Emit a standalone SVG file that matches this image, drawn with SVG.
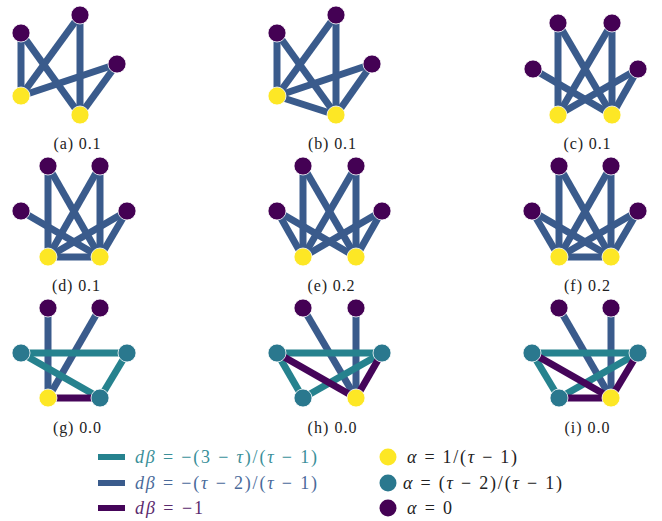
<svg xmlns="http://www.w3.org/2000/svg" width="662" height="521" viewBox="0 0 662 521">
<style>
.e{stroke-width:7;stroke-linecap:butt;fill:none}
.b{stroke:#3a5b8c}
.t{stroke:#26828e}
.p{stroke:#450559}
.n{stroke:#ffffff;stroke-width:0.8}
.ny{fill:#fde725}
.nt{fill:#2a788e}
.np{fill:#440154}
.lbl{font-family:"Liberation Serif","DejaVu Serif",serif;font-size:16px;fill:#222;text-anchor:middle}
.lg{font-family:"Liberation Serif","DejaVu Serif",serif;font-size:18px}
.i{font-style:italic}
</style>
<rect width="662" height="521" fill="#ffffff"/>
<g id="connectors">
<!-- a -->
<line class="e b" x1="21" y1="33" x2="21" y2="96"/>
<line class="e b" x1="21" y1="33" x2="80" y2="115"/>
<line class="e b" x1="80" y1="15" x2="21" y2="96"/>
<line class="e b" x1="80" y1="15" x2="80" y2="115"/>
<line class="e b" x1="117" y1="64" x2="21" y2="96"/>
<line class="e b" x1="117" y1="64" x2="80" y2="115"/>
<!-- b -->
<line class="e b" x1="277" y1="33" x2="277" y2="96"/>
<line class="e b" x1="277" y1="33" x2="336" y2="115"/>
<line class="e b" x1="336" y1="15" x2="277" y2="96"/>
<line class="e b" x1="336" y1="15" x2="336" y2="115"/>
<line class="e b" x1="372" y1="64" x2="277" y2="96"/>
<line class="e b" x1="372" y1="64" x2="336" y2="115"/>
<line class="e b" x1="277" y1="96" x2="336" y2="115"/>
<!-- c -->
<line class="e b" x1="558" y1="23" x2="558" y2="115"/>
<line class="e b" x1="558" y1="23" x2="612" y2="115"/>
<line class="e b" x1="612" y1="23" x2="558" y2="115"/>
<line class="e b" x1="612" y1="23" x2="612" y2="115"/>
<line class="e b" x1="533" y1="69" x2="612" y2="115"/>
<line class="e b" x1="638" y1="69" x2="558" y2="115"/>
<line class="e b" x1="638" y1="69" x2="612" y2="115"/>
<!-- d -->
<line class="e b" x1="48" y1="166" x2="48" y2="257"/>
<line class="e b" x1="48" y1="166" x2="100" y2="257"/>
<line class="e b" x1="100" y1="166" x2="48" y2="257"/>
<line class="e b" x1="100" y1="166" x2="100" y2="257"/>
<line class="e b" x1="21" y1="211" x2="100" y2="257"/>
<line class="e b" x1="127" y1="211" x2="48" y2="257"/>
<line class="e b" x1="127" y1="211" x2="100" y2="257"/>
<line class="e b" x1="48" y1="257" x2="100" y2="257"/>
<!-- e -->
<line class="e b" x1="303" y1="166" x2="303" y2="257"/>
<line class="e b" x1="303" y1="166" x2="356" y2="257"/>
<line class="e b" x1="356" y1="166" x2="303" y2="257"/>
<line class="e b" x1="356" y1="166" x2="356" y2="257"/>
<line class="e b" x1="277" y1="211" x2="303" y2="257"/>
<line class="e b" x1="277" y1="211" x2="356" y2="257"/>
<line class="e b" x1="382" y1="211" x2="303" y2="257"/>
<line class="e b" x1="382" y1="211" x2="356" y2="257"/>
<!-- f -->
<line class="e b" x1="559" y1="166" x2="559" y2="257"/>
<line class="e b" x1="559" y1="166" x2="611" y2="257"/>
<line class="e b" x1="611" y1="166" x2="559" y2="257"/>
<line class="e b" x1="611" y1="166" x2="611" y2="257"/>
<line class="e b" x1="532" y1="211" x2="559" y2="257"/>
<line class="e b" x1="532" y1="211" x2="611" y2="257"/>
<line class="e b" x1="638" y1="211" x2="559" y2="257"/>
<line class="e b" x1="638" y1="211" x2="611" y2="257"/>
<line class="e b" x1="559" y1="257" x2="611" y2="257"/>
<!-- g -->
<line class="e b" x1="48" y1="308" x2="48" y2="398"/>
<line class="e b" x1="100" y1="308" x2="48" y2="398"/>
<line class="e t" x1="21" y1="353" x2="127" y2="353"/>
<line class="e t" x1="21" y1="353" x2="100" y2="398"/>
<line class="e t" x1="127" y1="353" x2="100" y2="398"/>
<line class="e p" x1="48" y1="398" x2="100" y2="398"/>
<!-- h -->
<line class="e b" x1="303" y1="308" x2="356" y2="398"/>
<line class="e b" x1="356" y1="308" x2="356" y2="398"/>
<line class="e t" x1="277" y1="353" x2="382" y2="353"/>
<line class="e t" x1="277" y1="353" x2="303" y2="398"/>
<line class="e t" x1="382" y1="353" x2="303" y2="398"/>
<line class="e p" x1="277" y1="353" x2="356" y2="398"/>
<line class="e p" x1="382" y1="353" x2="356" y2="398"/>
<!-- i -->
<line class="e b" x1="559" y1="308" x2="611" y2="398"/>
<line class="e b" x1="611" y1="308" x2="611" y2="398"/>
<line class="e t" x1="532" y1="353" x2="638" y2="353"/>
<line class="e t" x1="532" y1="353" x2="559" y2="398"/>
<line class="e t" x1="638" y1="353" x2="559" y2="398"/>
<line class="e p" x1="532" y1="353" x2="611" y2="398"/>
<line class="e p" x1="638" y1="353" x2="611" y2="398"/>
<line class="e p" x1="559" y1="398" x2="611" y2="398"/>
</g>
<!-- panel a nodes -->
<g id="a1"><circle class="n np" cx="21" cy="33" r="9"/></g>
<g id="a2"><circle class="n np" cx="80" cy="15" r="9"/></g>
<g id="a3"><circle class="n np" cx="117" cy="64" r="9"/></g>
<g id="a4"><circle class="n ny" cx="21" cy="96" r="9"/></g>
<g id="a5"><circle class="n ny" cx="80" cy="115" r="9"/></g>
<!-- b -->
<g id="b1"><circle class="n np" cx="277" cy="33" r="9"/></g>
<g id="b2"><circle class="n np" cx="336" cy="15" r="9"/></g>
<g id="b3"><circle class="n np" cx="372" cy="64" r="9"/></g>
<g id="b4"><circle class="n ny" cx="277" cy="96" r="9"/></g>
<g id="b5"><circle class="n ny" cx="336" cy="115" r="9"/></g>
<!-- c -->
<g id="c1"><circle class="n np" cx="558" cy="23" r="9"/></g>
<g id="c2"><circle class="n np" cx="612" cy="23" r="9"/></g>
<g id="c3"><circle class="n np" cx="533" cy="69" r="9"/></g>
<g id="c4"><circle class="n np" cx="638" cy="69" r="9"/></g>
<g id="c5"><circle class="n ny" cx="558" cy="115" r="9"/></g>
<g id="c6"><circle class="n ny" cx="612" cy="115" r="9"/></g>
<!-- d -->
<g id="d1"><circle class="n np" cx="48" cy="166" r="9"/></g>
<g id="d2"><circle class="n np" cx="100" cy="166" r="9"/></g>
<g id="d3"><circle class="n np" cx="21" cy="211" r="9"/></g>
<g id="d4"><circle class="n np" cx="127" cy="211" r="9"/></g>
<g id="d5"><circle class="n ny" cx="48" cy="257" r="9"/></g>
<g id="d6"><circle class="n ny" cx="100" cy="257" r="9"/></g>
<!-- e -->
<g id="e1"><circle class="n np" cx="303" cy="166" r="9"/></g>
<g id="e2"><circle class="n np" cx="356" cy="166" r="9"/></g>
<g id="e3"><circle class="n np" cx="277" cy="211" r="9"/></g>
<g id="e4"><circle class="n np" cx="382" cy="211" r="9"/></g>
<g id="e5"><circle class="n ny" cx="303" cy="257" r="9"/></g>
<g id="e6"><circle class="n ny" cx="356" cy="257" r="9"/></g>
<!-- f -->
<g id="f1"><circle class="n np" cx="559" cy="166" r="9"/></g>
<g id="f2"><circle class="n np" cx="611" cy="166" r="9"/></g>
<g id="f3"><circle class="n np" cx="532" cy="211" r="9"/></g>
<g id="f4"><circle class="n np" cx="638" cy="211" r="9"/></g>
<g id="f5"><circle class="n ny" cx="559" cy="257" r="9"/></g>
<g id="f6"><circle class="n ny" cx="611" cy="257" r="9"/></g>
<!-- g -->
<g id="g1"><circle class="n np" cx="48" cy="308" r="9"/></g>
<g id="g2"><circle class="n np" cx="100" cy="308" r="9"/></g>
<g id="g3"><circle class="n nt" cx="21" cy="353" r="9"/></g>
<g id="g4"><circle class="n nt" cx="127" cy="353" r="9"/></g>
<g id="g5"><circle class="n ny" cx="48" cy="398" r="9"/></g>
<g id="g6"><circle class="n nt" cx="100" cy="398" r="9"/></g>
<!-- h -->
<g id="h1"><circle class="n np" cx="303" cy="308" r="9"/></g>
<g id="h2"><circle class="n np" cx="356" cy="308" r="9"/></g>
<g id="h3"><circle class="n nt" cx="277" cy="353" r="9"/></g>
<g id="h4"><circle class="n nt" cx="382" cy="353" r="9"/></g>
<g id="h5"><circle class="n nt" cx="303" cy="398" r="9"/></g>
<g id="h6"><circle class="n ny" cx="356" cy="398" r="9"/></g>
<!-- i -->
<g id="i1"><circle class="n np" cx="559" cy="308" r="9"/></g>
<g id="i2"><circle class="n np" cx="611" cy="308" r="9"/></g>
<g id="i3"><circle class="n nt" cx="532" cy="353" r="9"/></g>
<g id="i4"><circle class="n nt" cx="638" cy="353" r="9"/></g>
<g id="i5"><circle class="n nt" cx="559" cy="398" r="9"/></g>
<g id="i6"><circle class="n ny" cx="611" cy="398" r="9"/></g>
<!-- captions -->
<g id="captions">
<text class="lbl" x="77" y="149" textLength="47" lengthAdjust="spacing">(a) 0.1</text>
<text class="lbl" x="332" y="149" textLength="48" lengthAdjust="spacing">(b) 0.1</text>
<text class="lbl" x="587" y="149" textLength="47" lengthAdjust="spacing">(c) 0.1</text>
<text class="lbl" x="76" y="291" textLength="48" lengthAdjust="spacing">(d) 0.1</text>
<text class="lbl" x="331" y="291" textLength="47" lengthAdjust="spacing">(e) 0.2</text>
<text class="lbl" x="587" y="291" textLength="46" lengthAdjust="spacing">(f) 0.2</text>
<text class="lbl" x="77" y="433" textLength="48" lengthAdjust="spacing">(g) 0.0</text>
<text class="lbl" x="332" y="433" textLength="49" lengthAdjust="spacing">(h) 0.0</text>
<text class="lbl" x="587" y="433" textLength="45" lengthAdjust="spacing">(i) 0.0</text>
</g>
<!-- legend -->
<g id="legend">
<line x1="98" y1="457" x2="125" y2="457" stroke="#26828e" stroke-width="6"/>
<text class="lg" x="135" y="463" fill="#3a8f99" textLength="182" lengthAdjust="spacing"><tspan class="i">dβ</tspan> = −(3 − <tspan class="i">τ</tspan>)/(<tspan class="i">τ</tspan> − 1)</text>
<line x1="98" y1="483" x2="125" y2="483" stroke="#3a5b8c" stroke-width="6"/>
<text class="lg" x="135" y="489" fill="#4a6a9a" textLength="182" lengthAdjust="spacing"><tspan class="i">dβ</tspan> = −(<tspan class="i">τ</tspan> − 2)/(<tspan class="i">τ</tspan> − 1)</text>
<line x1="98" y1="508" x2="125" y2="508" stroke="#450559" stroke-width="6"/>
<text class="lg" x="135" y="514" fill="#5a2a6e" textLength="68" lengthAdjust="spacing"><tspan class="i">dβ</tspan> = −1</text>
<circle cx="388" cy="457" r="8.5" fill="#fde725"/>
<text class="lg" x="407" y="463" fill="#222" textLength="110" lengthAdjust="spacing"><tspan class="i">α</tspan> = 1/(<tspan class="i">τ</tspan> − 1)</text>
<circle cx="388" cy="483" r="8.5" fill="#2a788e"/>
<text class="lg" x="403" y="489" fill="#222" textLength="159" lengthAdjust="spacing"><tspan class="i">α</tspan> = (<tspan class="i">τ</tspan> − 2)/(<tspan class="i">τ</tspan> − 1)</text>
<circle cx="388" cy="508" r="8.5" fill="#440154"/>
<text class="lg" x="407" y="514" fill="#222" textLength="45" lengthAdjust="spacing"><tspan class="i">α</tspan> = 0</text>
</g>
</svg>
